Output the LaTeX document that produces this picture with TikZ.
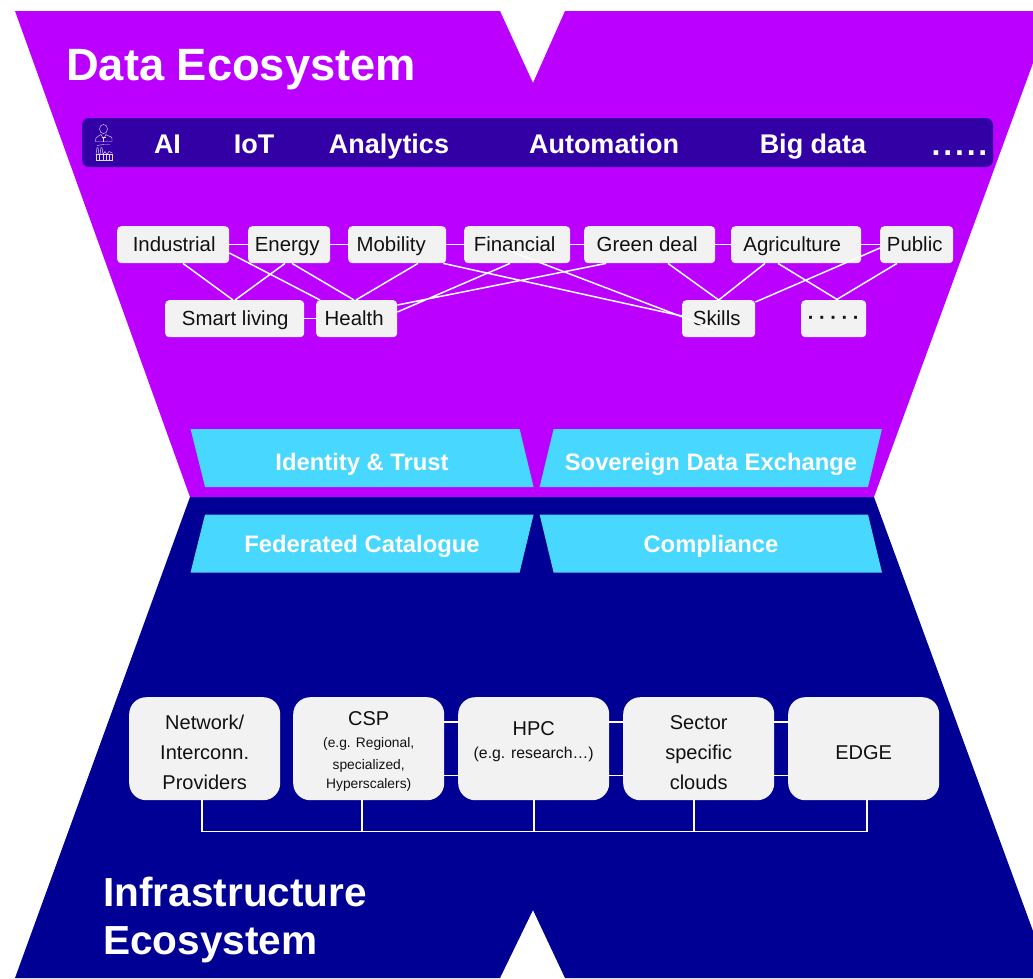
\documentclass[tikz,border=0pt]{standalone}
\usepackage{fontspec}
\setmainfont{Liberation Sans}
\definecolor{purp}{HTML}{BB00FF}
\definecolor{navy}{HTML}{000094}
\definecolor{barc}{HTML}{3300A6}
\definecolor{cyanb}{HTML}{47D7FF}
\definecolor{boxc}{HTML}{F2F2F2}
\definecolor{txtc}{HTML}{111111}
\newcommand{\fs}[2]{\fontsize{#1}{#2}\selectfont}
\newcommand{\toprl}[1]{\rule{0pt}{#1pt}}
\tikzset{
  sbox/.style={fill=boxc,rounded corners=4pt,inner sep=0pt,text=txtc,font=\fs{20.4}{24},minimum height=37pt,anchor=north west,text height=13pt,text depth=0pt},
  ibox/.style={fill=boxc,rounded corners=17pt,inner sep=0pt,text=txtc,font=\fs{20}{30},minimum height=103pt,minimum width=151pt,align=center,anchor=north west},
  link/.style={draw=white,line width=1.5pt},
  bartext/.style={text=white,font=\fs{27}{30}\bfseries,anchor=base,inner sep=0pt},
  trap/.style={fill=cyanb},
  traptext/.style={text=white,font=\fs{23.8}{28}\bfseries,anchor=base,inner sep=0pt},
  title/.style={text=white,anchor=base west,inner sep=0pt,font=\bfseries},
  iconline/.style={draw=white!85!barc,line width=.45pt},
}
\begin{document}
\begin{tikzpicture}[x=1pt,y=-1pt]
\useasboundingbox (0,0) rectangle (1033,978);
% funnels
\fill[navy] (190,497) -- (874,497) -- (1033,931) -- (1033,978) -- (565,978) -- (533,910) -- (500,978) -- (15,978) -- cycle;
\fill[purp] (15,11) -- (500,11) -- (533,83) -- (565,11) -- (1033,11) -- (1033,63) -- (874,497) -- (190,497) -- cycle;
\node[title,font=\fs{45.3}{50}\bfseries] (dtitle) at (66,80) {Data Ecosystem};
\node[title,font=\fs{40.6}{48}\bfseries] (it1) at (103,906) {Infrastructure};
\node[title,font=\fs{40.6}{48}\bfseries] (it2) at (103,954) {Ecosystem};
% technology bar
\fill[barc,rounded corners=7pt] (82,118) rectangle (993,167);
\node[bartext] (ai) at (167.5,153) {AI};
\node[bartext] (iot) at (254,153) {IoT};
\node[bartext] (ana) at (389,153) {Analytics};
\node[bartext] (aut) at (604,153) {Automation};
\node[bartext] (big) at (813,153) {Big data};
\node[bartext,font=\fs{32}{34}\bfseries] (more) at (959.5,155.7) {.\kern2.8pt.\kern2.8pt.\kern2.8pt.\kern2.8pt.};
% icon
\draw[iconline] (103.5,129) ellipse (4 and 4.6);
\draw[iconline] (95.5,141.5) -- (96,138) .. controls (97,136) and (100,136) .. (101,134.5) -- (103.5,139) -- (106,134.5) .. controls (107,136) and (111,136) .. (112,138) -- (112,141.5) -- cycle;
\draw[iconline] (103.5,139) -- (103.5,141.5) (101.5,137.5) -- (105.5,137.5);
\draw[iconline] (96,160.5) rectangle (112.5,154.5);
\draw[iconline] (99,160.5) -- (99,154.5) (103,160.5) -- (103,154.5) (106,160.5) -- (106,154.5) (109.5,160.5) -- (109.5,154.5);
\draw[iconline] (96,154.5) -- (97,147.5) -- (98,147.5) -- (99,154.5) (100,154.5) -- (101,147.5) -- (102,147.5) -- (103,154.5) -- (105,151.5) -- (107,154.5) -- (109,151.5) -- (112.5,153);
\draw[iconline] (97,145.5) .. controls (99,144) and (101,146) .. (104,144.5) -- (110,144.5);
% sector nodes
\node[sbox,minimum width=112pt] (ind) at (117,226) {\kern2pt Industrial};
\node[sbox,minimum width=82pt] (ene) at (248,226) {Energy\kern4pt};
\node[sbox,minimum width=98pt] (mob) at (348,226) {Mobility\kern12pt};
\node[sbox,minimum width=106pt] (fin) at (464,226) {Financial\kern5pt};
\node[sbox,minimum width=131pt] (gre) at (584,226) {Green deal\kern5pt};
\node[sbox,minimum width=130pt] (agr) at (731,226) {Agriculture\kern8pt};
\node[sbox,minimum width=73pt] (pub) at (880,226) {Public\kern4pt};
\node[sbox,minimum width=139pt,text height=14pt] (sma) at (165,300) {\kern1pt Smart living};
\node[sbox,minimum width=81pt,text height=14pt] (hea) at (316,300) {Health\kern5pt};
\node[sbox,minimum width=73pt,text height=14pt] (ski) at (682,300) {Skills\kern4pt};
\node[sbox,minimum width=65pt,font=\fs{20}{24}\bfseries] (dots) at (801,300) {\raisebox{1pt}{\textperiodcentered\kern4.6pt\textperiodcentered\kern4.6pt\textperiodcentered\kern4.6pt\textperiodcentered\kern4.6pt\textperiodcentered}};
% sector links
\path[link] (ind.east) -- (ene.west) (ene.east) -- (mob.west) (mob.east) -- (fin.west) (fin.east) -- (gre.west) (gre.east) -- (agr.west) (agr.east) -- (pub.west) (sma.east) -- (hea.west);
\path[link]
 ([xshift=66pt]ind.south west) -- ([xshift=68pt]sma.north west)
 ([xshift=37pt]ene.south west) -- ([xshift=70pt]sma.north west)
 ([xshift=44pt]ene.south west) -- ([xshift=38pt]hea.north west)
 ([xshift=70pt]mob.south west) -- ([xshift=40pt]hea.north west)
 ([yshift=-27pt]ind.north east) -- ([xshift=4pt]hea.north west)
 ([xshift=-3pt]mob.south east) -- ([yshift=-16pt]ski.north west)
 ([xshift=46pt]fin.south west) -- ([yshift=-12pt]hea.north east)
 ([xshift=22pt]gre.south west) -- ([yshift=-5pt]hea.north east)
 ([xshift=84pt]gre.south west) -- (ski.north)
 ([xshift=34pt]agr.south west) -- (ski.north)
 ([xshift=47pt]agr.south west) -- ([xshift=37pt]dots.north west)
 ([yshift=-22pt]pub.north west) -- ([yshift=-2pt]ski.north east)
 ([xshift=17pt]pub.south west) -- ([xshift=35pt]dots.north west);
\path[link] ([xshift=43pt,yshift=-24pt]fin.north west) -- ([xshift=32pt,yshift=-29pt]ski.north west);
% shared services
\fill[trap] (190.5,429) -- (519.6,429) -- (533.6,487) -- (205,487) -- cycle;
\fill[trap] (553.6,429) -- (882,429) -- (868,487) -- (539.6,487) -- cycle;
\fill[trap] (205,514.5) -- (533.6,514.5) -- (519.6,572.5) -- (190.5,572.5) -- cycle;
\fill[trap] (539.6,514.5) -- (868,514.5) -- (882,572.5) -- (553.6,572.5) -- cycle;
\node[traptext] (idt) at (362,470) {Identity \& Trust};
\node[traptext] (sde) at (711,470) {Sovereign Data Exchange};
\node[traptext] (fed) at (362,552) {Federated Catalogue};
\node[traptext] (com) at (711,552) {Compliance};
% infrastructure nodes
\node[ibox] (net) at (129,697) {\toprl{21}Network/\\Interconn.\\Providers};
\node[ibox] (csp) at (293,697) {\toprl{20}CSP\\[-8pt]{\fs{13.8}{22}(e.g. Regional,}\\[-8pt]{\fs{13.8}{22}specialized,}\\[-11pt]{\fs{13.8}{19}Hyperscalers)}};
\node[ibox] (hpc) at (458,697) {\toprl{22.5}HPC\\[-7pt]{\fs{15.8}{24}(e.g. research…)}\\[-4pt]\mbox{}};
\node[ibox] (sec) at (623,697) {\toprl{21}Sector\\specific\\clouds};
\node[ibox] (edg) at (788,697) {\toprl{22.5}EDGE};
\coordinate (bus) at (0,831.5);
\path[link] ([yshift=-25pt]csp.north east) -- ([yshift=-25pt]hpc.north west) ([yshift=-25pt]hpc.north east) -- ([yshift=-25pt]sec.north west) ([yshift=-25pt]sec.north east) -- ([yshift=-25pt]edg.north west);
\path[link] ([yshift=25pt]csp.south east) -- ([yshift=25pt]hpc.south west) ([yshift=25pt]hpc.south east) -- ([yshift=25pt]sec.south west) ([yshift=25pt]sec.south east) -- ([yshift=25pt]edg.south west);
\path[link] ([xshift=73pt]net.south west) -- ([xshift=73pt]net.south west |- bus) -- ([xshift=79pt]edg.south west |- bus) -- ([xshift=79pt]edg.south west);
\path[link] ([xshift=69pt]csp.south west) -- ([xshift=69pt]csp.south west |- bus);
\path[link] ([xshift=76pt]hpc.south west) -- ([xshift=76pt]hpc.south west |- bus);
\path[link] ([xshift=71pt]sec.south west) -- ([xshift=71pt]sec.south west |- bus);
\end{tikzpicture}
\end{document}
